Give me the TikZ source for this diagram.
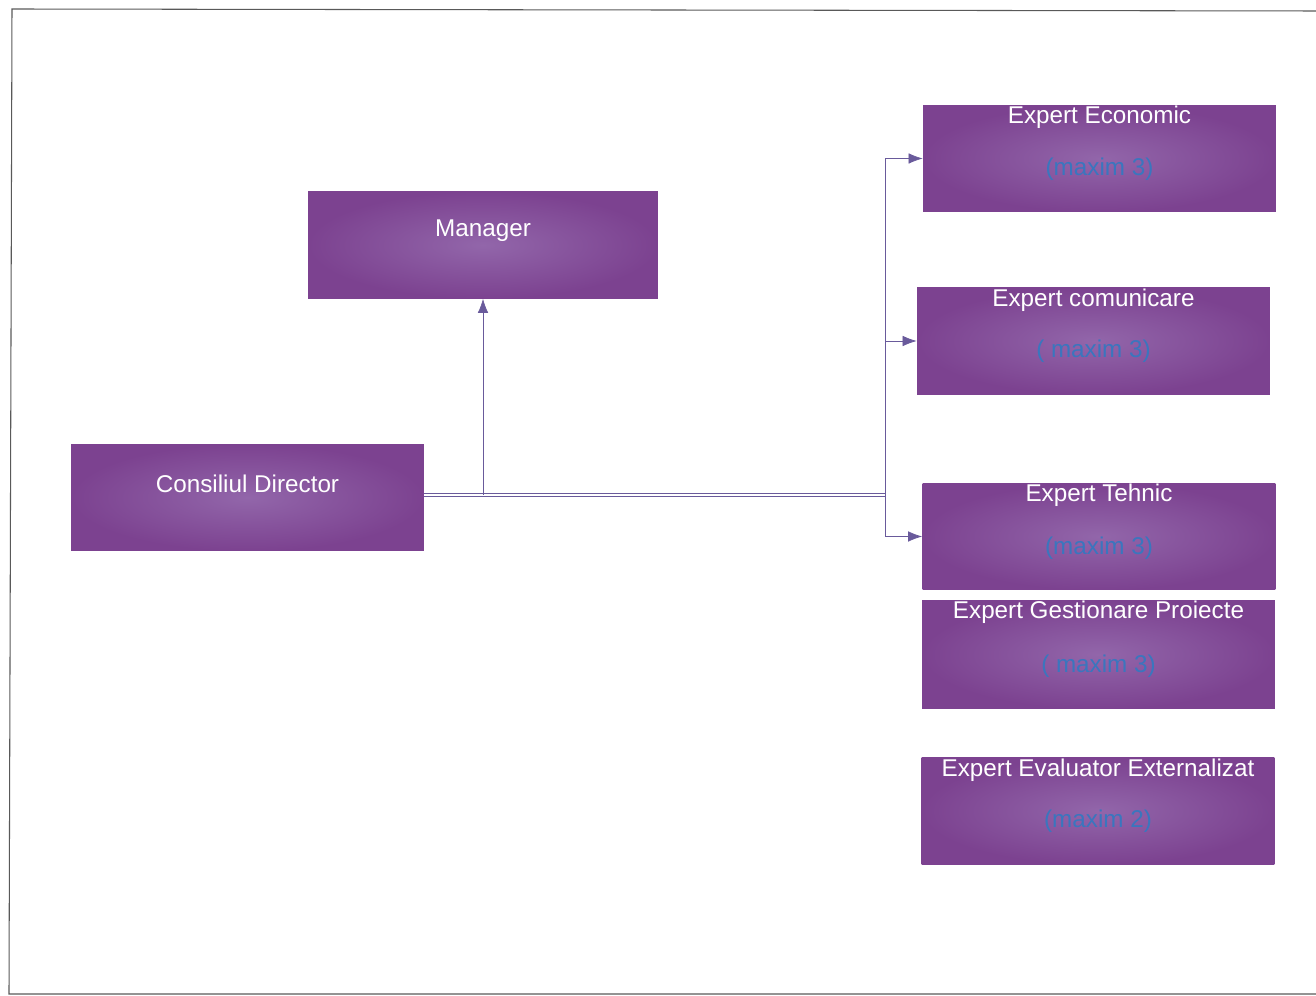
\documentclass[tikz,border=0pt]{standalone}
\usepackage{fontspec}
\setmainfont{Liberation Sans}
\usetikzlibrary{arrows.meta}
\definecolor{boxpurple}{RGB}{124,66,144}
\definecolor{boxlight}{RGB}{146,102,170}
\definecolor{maxblue}{RGB}{58,118,190}
\definecolor{linepurple}{RGB}{105,90,155}

\begin{document}
\begin{tikzpicture}[x = 0.02cm, y = -0.02cm,
  post/.style = {rectangle, inner color = boxlight, outer color = boxpurple,
    minimum width = 7.06cm, minimum height = 2.14cm, inner sep = 0pt},
  title/.style = {text = white, font = \fontsize{13.8}{16}\selectfont},
  note/.style = {text = maxblue, font = \fontsize{13.8}{16}\selectfont},
  link/.style = {draw = linepurple, thin, -{Latex[length = 8pt, width = 6pt]}}]
\useasboundingbox (0,0) rectangle (1316,996);
\draw [gray!70!black, semithick] (1316,11) -- (12,9) -- (9,994) -- (1316,994);
% boxes
\node [post, minimum width = 7cm] (manager) at (483,245) {};
\node [post] (board) at (247.5,497.5) {};
\node [post] (econ) at (1099.5,158.5) {};
\node [post] (comm) at (1093.5,341) {};
\node [post] (tech) at (1099,536.5) {};
\node [post, minimum height = 2.18cm] (proj) at (1098.5,654.5) {};
\node [post] (eval) at (1098,811) {};
% texts
\node [title] (managerT) at ([yshift = 0.28cm] manager.center) {Manager};
\node [title] (boardT) at ([yshift = 0.28cm] board.center) {Consiliul Director};
\node [title] (econT) at ([yshift = -0.26cm] econ.north) {Expert Economic};
\node [note] (econN) at ([yshift = -0.21cm] econ.center) {(maxim 3)};
\node [title] (commT) at ([yshift = -0.26cm] comm.north) {Expert comunicare};
\node [note] (commN) at ([yshift = -0.21cm] comm.center) {( maxim 3)};
\node [title] (techT) at ([yshift = -0.26cm] tech.north) {Expert Tehnic};
\node [note] (techN) at ([yshift = -0.23cm] tech.center) {(maxim 3)};
\node [title] (projT) at ([yshift = -0.26cm] proj.north) {Expert Gestionare Proiecte};
\node [note] (projN) at ([yshift = -0.23cm] proj.center) {( maxim 3)};
\node [title] (evalT) at ([yshift = -0.26cm] eval.north) {Expert Evaluator Externalizat};
\node [note] (evalN) at ([yshift = -0.21cm] eval.center) {(maxim 2)};
% connectors
\coordinate (hub) at (885,495);
\draw [draw = linepurple, double, double distance = 1.6pt, thin] (board.east |- hub) -- (hub);
\draw [link] (manager.south |- hub) -- (manager.south);
\draw [draw = linepurple, thin] (hub |- econ.west) -- (hub |- tech.west);
\draw [link] (hub |- econ.west) -- (econ.west);
\draw [link] (hub |- comm.west) -- (comm.west);
\draw [link] (hub |- tech.west) -- (tech.west);
\end{tikzpicture}
\end{document}
